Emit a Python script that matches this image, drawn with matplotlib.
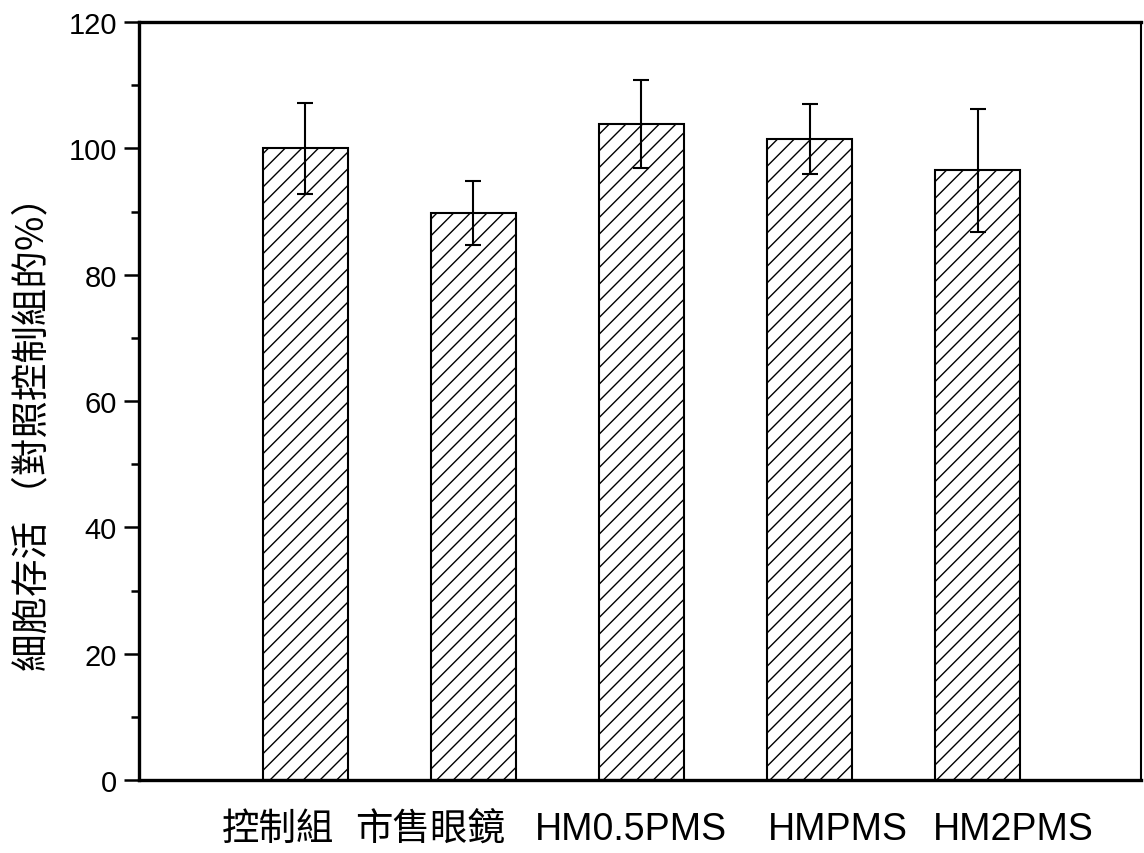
import numpy as np
import matplotlib.pyplot as plt
from matplotlib.ticker import MultipleLocator

# Data
groups = ['控制組', '市售眼鏡', 'HM0.5PMS', 'HMPMS', 'HM2PMS']
viability = [100.0, 89.8, 103.9, 101.5, 96.5]
errors = [7.2, 5.1, 7.0, 5.6, 9.7]

# Label offsets (the labels in the original are not centred under the bars)
label_shift = [-0.16, -0.26, -0.06, 0.17, 0.21]

plt.rcParams['font.family'] = ['Liberation Sans', 'Noto Sans CJK TC', 'DejaVu Sans']
plt.rcParams['hatch.linewidth'] = 1.0

fig = plt.figure(figsize=(11.44, 8.54), dpi=100)
ax = fig.add_axes([0.1215, 0.0855, 0.8755, 0.8875])

x = np.arange(len(groups))
ax.bar(x, viability, width=0.505, color='white', edgecolor='black',
       linewidth=1.5, hatch='//', zorder=2)
ax.errorbar(x, viability, yerr=errors, fmt='none', ecolor='black',
            elinewidth=1.5, capsize=6, capthick=1.5, zorder=3)

ax.set_xlim(-0.99, 4.97)
ax.set_ylim(0, 120)
ax.yaxis.set_major_locator(MultipleLocator(20))
ax.yaxis.set_minor_locator(MultipleLocator(10))
ax.tick_params(axis='y', which='major', direction='out', length=11, width=1.8,
               labelsize=21, pad=5)
ax.tick_params(axis='y', which='minor', direction='out', length=6, width=1.8)

ax.set_xticks(x + np.array(label_shift))
ax.set_xticklabels(groups, fontsize=27)
ax.tick_params(axis='x', length=0, pad=22)

for side in ['left', 'bottom', 'top']:
    ax.spines[side].set_linewidth(2.4)
ax.spines['right'].set_linewidth(1.5)

ax.set_ylabel('細胞存活 （對照控制組的%）', fontsize=27,
              family=['Noto Sans CJK TC', 'DejaVu Sans'])
ax.yaxis.set_label_coords(-0.086, 0.47)

fig.savefig('out.png', dpi=100)
